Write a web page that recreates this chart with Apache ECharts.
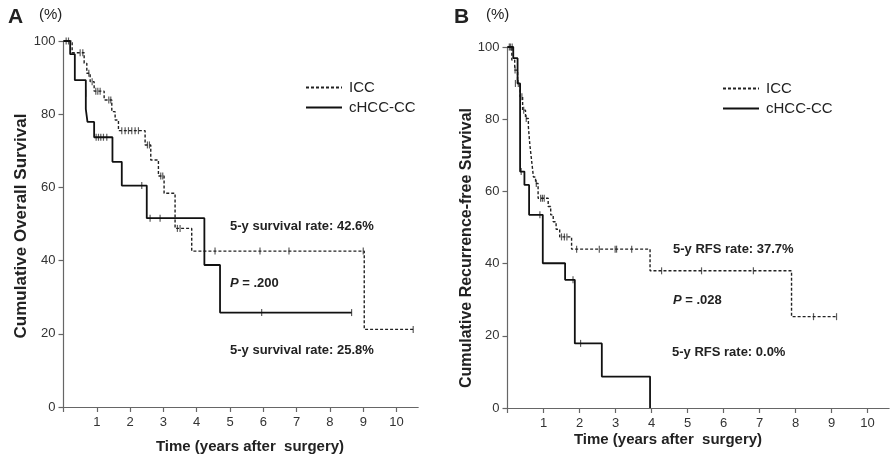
<!DOCTYPE html>
<html>
<head>
<meta charset="utf-8">
<script src="https://cdn.jsdelivr.net/npm/echarts@6/dist/echarts.min.js"></script>
<style>
html,body{margin:0;padding:0;background:#fff;}
#chart{width:893px;height:458px;}
</style>
</head>
<body>
<div id="chart"></div>
<script>
// ---------- Data ----------
const xTickValues = [0,1,2,3,4,5,6,7,8,9,10];
const xLabelValues = [1,2,3,4,5,6,7,8,9,10];
const yTicks = [0,20,40,60,80,100];
const seriesNames = ['ICC','cHCC-CC'];

// Panel A: overall survival (step points: time of event, new value)
const aIccTime  = [0, 0.26, 0.62, 0.7, 0.8, 0.92, 1.22, 1.45, 1.55, 1.65, 2.45, 2.62, 2.85, 3.02, 3.35, 3.85, 9.03, 10.5];
const aIccValue = [100, 96.8, 93.9, 91.2, 88.9, 86.3, 83.9, 80.7, 78.4, 75.5, 71.6, 67.5, 63.1, 58.4, 48.8, 42.6, 21.2, 21.2];
const aIccCensorTime  = [0.15, 0.5, 0.58, 0.76, 0.86, 0.97, 1.03, 1.1, 1.36, 1.42, 1.75, 1.85, 1.95, 2.05, 2.15, 2.25, 2.52, 2.58, 2.92, 2.98, 3.42, 3.5, 4.55, 5.9, 6.77, 9.0, 10.5];
const aIccCensorValue = [100, 96.8, 96.8, 91.2, 88.9, 86.3, 86.3, 86.3, 83.9, 83.9, 75.5, 75.5, 75.5, 75.5, 75.5, 75.5, 71.6, 71.6, 63.1, 63.1, 48.8, 48.8, 42.6, 42.6, 42.6, 42.6, 21.2];

const aCcTime  = [0, 0.2, 0.34, 0.67, 0.72, 0.92, 1.47, 1.75, 2.5, 4.23, 4.7, 8.65];
const aCcValue = [100, 96.4, 89.3, 81.4, 77.9, 73.7, 67.0, 60.5, 51.6, 38.8, 25.8, 25.8];
const aCcCensorTime  = [0.08, 0.67, 0.98, 1.05, 1.12, 1.2, 1.3, 2.35, 2.6, 2.9, 5.95, 8.65];
const aCcCensorValue = [100, 85.7, 73.7, 73.7, 73.7, 73.7, 73.7, 60.5, 51.6, 51.6, 25.8, 25.8];

// Panel B: recurrence-free survival
const bIccTime  = [0, 0.12, 0.2, 0.28, 0.35, 0.42, 0.5, 0.58, 0.62, 0.67, 0.72, 0.78, 0.85, 1.13, 1.2, 1.27, 1.35, 1.45, 1.78, 3.96, 7.89, 9.14];
const bIccValue = [100, 96.4, 93.6, 89.9, 86.2, 82.5, 80.2, 77.9, 73.0, 68.5, 64.0, 62.2, 58.1, 55.8, 53.5, 51.6, 49.5, 47.4, 44.0, 38.0, 25.3, 25.3];
const bIccCensorTime  = [0.08, 0.13, 0.21, 0.3, 0.4, 0.45, 0.52, 0.8, 0.92, 0.97, 1.02, 1.5, 1.58, 1.65, 1.92, 2.55, 2.99, 3.03, 3.45, 4.28, 5.39, 6.83, 8.5, 9.14];
const bIccCensorValue = [100, 100, 93.6, 89.9, 86.2, 82.5, 80.2, 62.2, 58.1, 58.1, 58.1, 47.4, 47.4, 47.4, 44.0, 44.0, 44.0, 44.0, 44.0, 38.0, 38.0, 38.0, 25.3, 25.3];

const bCcTime  = [0, 0.16, 0.28, 0.35, 0.47, 0.6, 0.98, 1.6, 1.87, 2.62, 3.96];
const bCcValue = [100, 96.9, 89.9, 65.5, 61.8, 53.5, 40.1, 35.5, 17.9, 8.7, 0];
const bCcCensorTime  = [0.05, 0.22, 0.38, 0.9, 1.82, 2.03];
const bCcCensorValue = [100, 89.9, 65.5, 53.5, 35.5, 17.9];

// ---------- Chart ----------
const pairs = (t, v) => t.map((x, i) => [x, v[i]]);
const FONT = '"Liberation Sans", Arial, sans-serif';
const ink = '#222';
const axisCol = '#666';

function xAxisCfg(gi, max) {
  return {
    gridIndex: gi, type: 'value', min: 0, max: max,
    axisLine: {show: true, onZero: false, lineStyle: {color: axisCol, width: 1.2}},
    axisTick: {show: true, inside: false, length: 5, customValues: xTickValues, lineStyle: {color: axisCol, width: 1.2}},
    axisLabel: {show: true, customValues: xLabelValues, margin: 9, color: '#333', fontSize: 13, fontFamily: FONT},
    splitLine: {show: false}
  };
}
function yAxisCfg(gi) {
  return {
    gridIndex: gi, type: 'value', min: 0, max: 100, interval: 20,
    axisLine: {show: true, lineStyle: {color: axisCol, width: 1.2}},
    axisTick: {show: true, length: 5, lineStyle: {color: axisCol, width: 1.2}},
    axisLabel: {margin: 8, color: '#333', fontSize: 13, fontFamily: FONT},
    splitLine: {show: false}
  };
}
function stepLine(name, gi, t, v, dashed) {
  return {
    name: name, type: 'line', xAxisIndex: gi, yAxisIndex: gi, step: 'end',
    data: pairs(t, v), symbol: 'none', silent: true,
    itemStyle: {color: ink},
    lineStyle: dashed ? {color: ink, width: 1.4, type: [3, 2]} : {color: '#111', width: 1.8, type: 'solid'}
  };
}
function censor(gi, t, v) {
  return {
    name: 'censor', type: 'scatter', xAxisIndex: gi, yAxisIndex: gi,
    data: pairs(t, v), symbol: 'rect', symbolSize: [1.2, 7], silent: true,
    itemStyle: {color: '#333'}
  };
}
function legendCfg(left, top) {
  return {
    data: seriesNames, left: left, top: top, orient: 'vertical',
    itemWidth: 36, itemHeight: 14, itemGap: 5, selectedMode: false,
    itemStyle: {opacity: 0, borderWidth: 0},
    textStyle: {fontSize: 15, color: ink, fontFamily: FONT, padding: [0, 0, 0, 2]}
  };
}
function txt(x, y, text, opts) {
  return {
    type: 'text', x: x, y: y, silent: true,
    style: Object.assign({text: text, fill: ink, font: 'bold 13px ' + FONT, textVerticalAlign: 'middle'}, opts || {})
  };
}
function rotTxt(cx, cy, text, size) {
  return {
    type: 'text', x: cx, y: cy, rotation: Math.PI / 2, silent: true,
    style: {text: text, fill: ink, font: 'bold ' + size + 'px ' + FONT, textAlign: 'center', textVerticalAlign: 'middle'}
  };
}
function pTxt(x, y, val) {
  return {
    type: 'text', x: x, y: y, silent: true,
    style: {
      text: '{i|P} = ' + val, fill: ink, font: 'bold 13px ' + FONT, textVerticalAlign: 'middle',
      rich: {i: {fontStyle: 'italic', fontWeight: 'bold', fontSize: 13, fontFamily: FONT, fill: ink}}
    }
  };
}

const chart = echarts.init(document.getElementById('chart'), null, {renderer: 'canvas'});
chart.setOption({
  animation: false,
  backgroundColor: '#fff',
  grid: [
    {left: 63.5, top: 41, width: 354.7, height: 366, containLabel: false},
    {left: 507.5, top: 47, width: 381.6, height: 361, containLabel: false}
  ],
  xAxis: [xAxisCfg(0, 10.65), xAxisCfg(1, 10.6)],
  yAxis: [yAxisCfg(0), yAxisCfg(1)],
  legend: [legendCfg(300, 75), legendCfg(717, 76)],
  series: [
    stepLine('ICC', 0, aIccTime, aIccValue, true),
    stepLine('cHCC-CC', 0, aCcTime, aCcValue, false),
    censor(0, aIccCensorTime, aIccCensorValue),
    censor(0, aCcCensorTime, aCcCensorValue),
    stepLine('ICC', 1, bIccTime, bIccValue, true),
    stepLine('cHCC-CC', 1, bCcTime, bCcValue, false),
    censor(1, bIccCensorTime, bIccCensorValue),
    censor(1, bCcCensorTime, bCcCensorValue)
  ],
  graphic: [
    txt(8, 17, 'A', {font: 'bold 21px ' + FONT}),
    txt(39, 15, '(%)', {font: '15px ' + FONT}),
    txt(454, 17, 'B', {font: 'bold 21px ' + FONT}),
    txt(486, 15, '(%)', {font: '15px ' + FONT}),
    rotTxt(21, 226, 'Cumulative Overall Survival', 17),
    rotTxt(467, 248, 'Cumulative Recurrence-free Survival', 16),
    txt(250, 447, 'Time (years after  surgery)', {font: 'bold 15px ' + FONT, textAlign: 'center'}),
    txt(668, 440, 'Time (years after  surgery)', {font: 'bold 15px ' + FONT, textAlign: 'center'}),
    txt(230, 226, '5-y survival rate: 42.6%'),
    pTxt(230, 283, '.200'),
    txt(230, 350, '5-y survival rate: 25.8%'),
    txt(673, 249, '5-y RFS rate: 37.7%'),
    pTxt(673, 300, '.028'),
    txt(672, 352, '5-y RFS rate: 0.0%')
  ]
});
</script>
</body>
</html>
